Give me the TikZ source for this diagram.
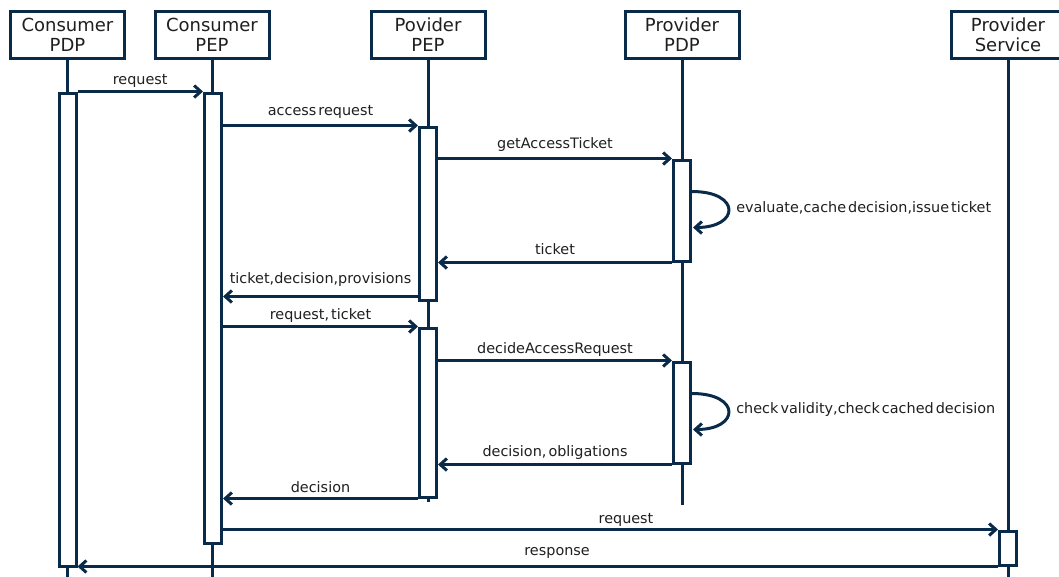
\documentclass[tikz,border=0pt]{standalone}
\usepackage{fontspec}
\setmainfont{DejaVu Sans}
\newfontfamily\labfont[WordSpace=0.45]{DejaVu Sans}
\usetikzlibrary{arrows.meta,calc}
\definecolor{navy}{RGB}{10,42,74}
\begin{document}
\begin{tikzpicture}[x=0.75pt,y=-0.75pt,
  head/.style={draw=navy, line width=2.25pt, fill=white, minimum width=85.5pt,
    minimum height=35.25pt, inner sep=0pt, align=center,
    font=\fontsize{13.5}{15}\selectfont, text=black!88},
  act/.style={draw=navy, line width=2.25pt, fill=white, minimum width=12.75pt, inner sep=0pt},
  life/.style={draw=navy, line width=2.25pt},
  msg/.style={draw=navy, line width=2.25pt, -{Straight Barb[length=5pt,width=9pt]}},
  note/.style={font=\labfont\fontsize{10.8}{12}\selectfont, text=black!88, inner sep=0pt},
  lab/.style={note, anchor=base, yshift={#1*0.75pt}},
  lab/.default=8,
]
\path[use as bounding box] (0,0) rectangle (1059,576);
\clip (0,0) rectangle (1059,576);

% participants
\node[head] (cpdp) at (67.5,35) {Consumer\\PDP};
\node[head] (cpep) at (212,35) {Consumer\\PEP};
\node[head] (ppep) at (428,35) {Povider\\PEP};
\node[head] (ppdp) at (682,35) {Provider\\PDP};
\node[head] (ps)   at (1008,35) {Provider\\Service};

% lifeline ends
\coordinate (cpdpE) at (67.5,590);
\coordinate (cpepE) at (213,590);
\coordinate (ppepE) at (428,502);
\coordinate (ppdpE) at (682,505);
\coordinate (psE)   at (1008,590);

\draw[life] (cpdp.south) -- (cpdpE);
\draw[life] (cpep.south) -- (cpep.south |- cpepE);
\draw[life] (ppep.south) -- (ppepE);
\draw[life] (ppdp.south) -- (ppdpE);
\draw[life] (ps.south) -- (psE);

% activation bars
\node[act, minimum height={473*0.75pt}] (cpdpA) at (67.5,329.5) {};
\node[act, minimum height={450*0.75pt}] (cpepA) at (213,318) {};
\node[act, minimum height={173*0.75pt}] (ppepA1) at (428,213.5) {};
\node[act, minimum height={169*0.75pt}] (ppepA2) at (428,412.5) {};
\node[act, minimum height={101*0.75pt}] (ppdpA1) at (682,210.5) {};
\node[act, minimum height={101*0.75pt}] (ppdpA2) at (682,412.5) {};
\node[act, minimum height={34*0.75pt}] (psA) at (1008,548) {};

% messages
\draw[msg] (cpdpA.north east) -- node[lab=7] {request} (cpepA.north west);
\draw[msg] (ppepA1.north west -| cpepA.east) -- node[lab=10] {access request} (ppepA1.north west);
\draw[msg] (ppdpA1.north west -| ppepA1.east) -- node[lab=10] {getAccessTicket} (ppdpA1.north west);

\coordinate (l1a) at ($(ppdpA1.north east)+(0,33)$);
\coordinate (l1b) at ($(ppdpA1.north east)+(1,69)$);
\draw[msg] (l1a) .. controls ($(l1a)+(49,0)$) and ($(l1b)+(47,0)$) .. (l1b);
\node[note, anchor=west] (l1t) at ($(l1a)+(44,16)$) {evaluate,cache decision,issue ticket};

\draw[msg] (ppdpA1.south west) -- node[lab=8] {ticket} (ppdpA1.south west -| ppepA1.east);

\coordinate (tdp) at ($(ppepA1.south west)+(0,-5)$);
\draw[msg] (tdp) -- node[lab=13] {ticket,decision,provisions} (tdp -| cpepA.east);

\draw[msg] (ppepA2.north west -| cpepA.east) -- node[lab=7] {request, ticket} (ppepA2.north west);
\draw[msg] (ppdpA2.north west -| ppepA2.east) -- node[lab=7] {decideAccessRequest} (ppdpA2.north west);

\coordinate (l2a) at ($(ppdpA2.north east)+(0,33)$);
\coordinate (l2b) at ($(ppdpA2.north east)+(1,69)$);
\draw[msg] (l2a) .. controls ($(l2a)+(49,0)$) and ($(l2b)+(47,0)$) .. (l2b);
\node[note, anchor=west] (l2t) at ($(l2a)+(44,16)$) {check validity,check cached decision};

\draw[msg] (ppdpA2.south west) -- node[lab=8] {decision, obligations} (ppdpA2.south west -| ppepA2.east);
\draw[msg] (ppepA2.south west) -- node[lab=6] {decision} (ppepA2.south west -| cpepA.east);

\draw[msg] (psA.north west -| cpepA.east) -- node[lab=6, pos=0.52] {request} (psA.north west);
\draw[msg] (psA.south west) -- node[lab=11, pos=0.479] {response} (psA.south west -| cpdpA.east);
\end{tikzpicture}
\end{document}
